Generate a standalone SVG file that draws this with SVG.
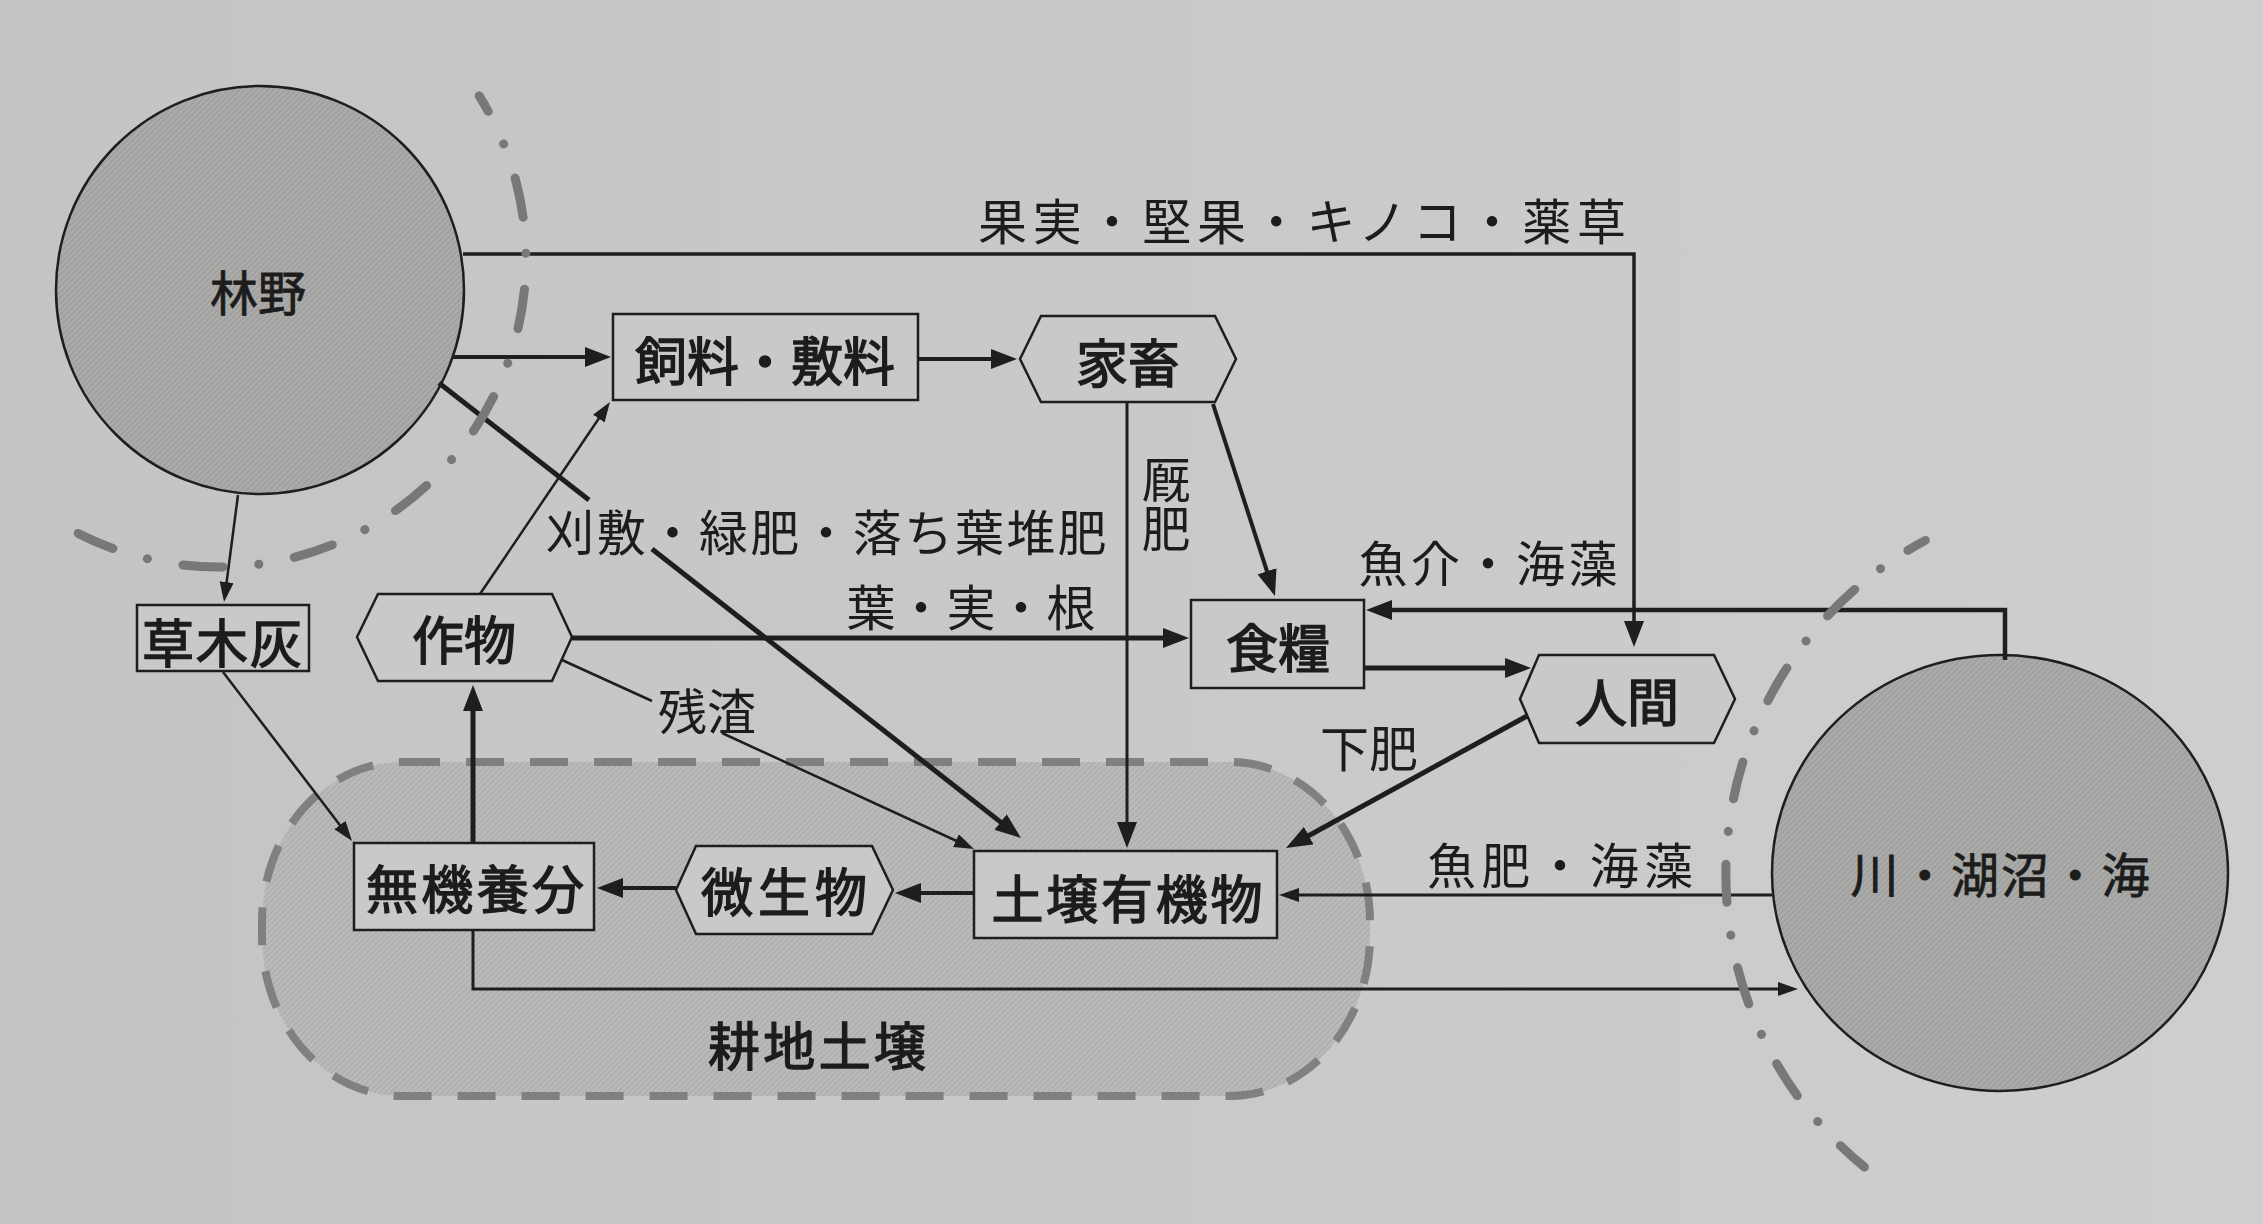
<svg xmlns="http://www.w3.org/2000/svg" width="2263" height="1224" viewBox="0 0 2263 1224">
<defs>
<linearGradient id="bg" x1="0" y1="0" x2="1" y2="0">
<stop offset="0" stop-color="#c4c4c2"/>
<stop offset="1" stop-color="#cecfcd"/>
</linearGradient>
<pattern id="hatchDark" width="4" height="4" patternUnits="userSpaceOnUse" patternTransform="rotate(45)">
<rect width="4" height="4" fill="#acacaa"/>
<line x1="1" y1="0" x2="1" y2="4" stroke="#999997" stroke-width="1.3"/>
</pattern>
<pattern id="hatchLight" width="4" height="4" patternUnits="userSpaceOnUse" patternTransform="rotate(45)">
<rect width="4" height="4" fill="#bbbbb9"/>
<line x1="1" y1="0" x2="1" y2="4" stroke="#aaaaa8" stroke-width="1.3"/>
</pattern>
<marker id="a" markerWidth="26" markerHeight="20" refX="18" refY="10" orient="auto" markerUnits="userSpaceOnUse">
<path d="M0,0 L26,10 L0,20 z" fill="#1e1e1e"/>
</marker>
<marker id="s" markerWidth="20" markerHeight="14" refX="14" refY="7" orient="auto" markerUnits="userSpaceOnUse">
<path d="M0,0 L20,7 L0,14 z" fill="#1e1e1e"/>
</marker>
<style>
text{font-family:"Noto Sans CJK JP","Noto Sans CJK SC",sans-serif;fill:#1c1c1c;text-anchor:middle;dominant-baseline:central}
.node{font-size:52px;stroke:#1c1c1c;stroke-width:1.4px}
.lbl{font-size:49px}
.circ{font-size:48px;stroke:#1c1c1c;stroke-width:0.8px}
.box{fill:#c9c9c7;stroke:#1e1e1e;stroke-width:2.5}
.ball{fill:url(#hatchDark);stroke:#1e1e1e;stroke-width:2.5}
.c{fill:none;stroke:#1e1e1e}
.dd{fill:none;stroke:#787876;stroke-width:9;stroke-linecap:round}
</style>
</defs>
<rect width="2263" height="1224" fill="url(#bg)"/>

<g id="farmland">
<rect x="262" y="762" width="1108" height="334" rx="140" ry="160" fill="url(#hatchLight)" stroke="#80807e" stroke-width="8" stroke-dasharray="38 26"/>
<text class="node" x="817" y="1043" textLength="218">耕地土壌</text>
</g>

<g id="forest">
<circle class="ball" cx="260" cy="290" r="204"/>
<text class="circ" x="258" y="290">林野</text>
</g>

<g id="water">
<ellipse class="ball" cx="2000" cy="873" rx="228" ry="218"/>
<text class="circ" x="2000" y="872" textLength="299">川・湖沼・海</text>
</g>

<g id="connectors">
<path class="c" stroke-width="3.5" d="M463,254 H1634 V639" marker-end="url(#a)"/>
<path class="c" stroke-width="4" d="M453,357 H603" marker-end="url(#a)"/>
<path class="c" stroke-width="4" d="M918,359 H1009" marker-end="url(#a)"/>
<path class="c" stroke-width="4" d="M1213,404 L1272.5,588.4" marker-end="url(#a)"/>
<path class="c" stroke-width="3" d="M1127,402 V840" marker-end="url(#a)"/>
<path class="c" stroke-width="5" d="M572,638 H1181" marker-end="url(#a)"/>
<path class="c" stroke-width="5" d="M1364,668 H1523" marker-end="url(#a)"/>
<path class="c" stroke-width="4.5" d="M2005,660 V610 H1374" marker-end="url(#a)"/>
<path class="c" stroke-width="5" d="M1527,716 L1293,844.2" marker-end="url(#a)"/>
<path class="c" stroke-width="3" d="M1772,895 H1285" marker-end="url(#s)"/>
<path class="c" stroke-width="3" d="M473,930 V989 H1792" marker-end="url(#s)"/>
<path class="c" stroke-width="4" d="M974,893 H903" marker-end="url(#a)"/>
<path class="c" stroke-width="4" d="M676,888 H605" marker-end="url(#a)"/>
<path class="c" stroke-width="5" d="M473,843 V693" marker-end="url(#a)"/>
<path class="c" stroke-width="2.5" d="M223,672 L348.4,836.2" marker-end="url(#s)"/>
<path class="c" stroke-width="2.5" d="M238,495 L224.8,596" marker-end="url(#s)"/>
<path class="c" stroke-width="2.5" d="M480,594 L606.6,407" marker-end="url(#s)"/>
<path class="c" stroke-width="2.5" d="M562,660 L652,701"/>
<path class="c" stroke-width="2.5" d="M722,733 L968.6,846.5" marker-end="url(#s)"/>
<path class="c" stroke-width="5" d="M439,383 L589,500"/>
<path class="c" stroke-width="5" d="M652,549 L1014.7,833.1" marker-end="url(#a)"/>
</g>

<g id="boundaries">
<path class="dd" stroke-dasharray="40 36 0.1 36" stroke-dashoffset="22" d="M479.2,95.8 A308,308 0 0 1 78.2,533.4"/>
<path class="dd" stroke-dasharray="38 33 0.1 33" stroke-dashoffset="18" d="M1925.3,540.4 A379,379 0 0 0 1864.4,1167.1"/>
</g>

<g id="feed">
<rect class="box" x="613" y="314" width="305" height="86"/>
<text class="node" x="765" y="358" textLength="260">飼料・敷料</text>
</g>
<g id="livestock">
<polygon class="box" points="1020,359 1041,316 1215,316 1236,359 1215,402 1041,402"/>
<text class="node" x="1128" y="360">家畜</text>
</g>
<g id="food">
<rect class="box" x="1191" y="600" width="173" height="88"/>
<text class="node" x="1278" y="645">食糧</text>
</g>
<g id="human">
<polygon class="box" points="1520,699 1539,655 1714,655 1735,699 1714,743 1539,743"/>
<text class="node" x="1627" y="699">人間</text>
</g>
<g id="crop">
<polygon class="box" points="357,637 378,594 552,594 572,637 552,681 378,681"/>
<text class="node" x="464" y="637">作物</text>
</g>
<g id="ash">
<rect class="box" x="137" y="605" width="172" height="66"/>
<text class="node" x="222" y="640" textLength="160">草木灰</text>
</g>
<g id="inorganic">
<rect class="box" x="354" y="843" width="240" height="87"/>
<text class="node" x="475" y="886" textLength="218">無機養分</text>
</g>
<g id="microbe">
<polygon class="box" points="676,890 696,846 872,846 893,890 872,934 696,934"/>
<text class="node" x="784" y="889" textLength="166">微生物</text>
</g>
<g id="soilorganic">
<rect class="box" x="974" y="851" width="303" height="87"/>
<text class="node" x="1127" y="896" textLength="271">土壌有機物</text>
</g>

<g id="labels">
<text class="lbl" x="1302" y="218" textLength="648">果実・堅果・キノコ・薬草</text>
<text class="lbl" x="826" y="529" textLength="561">刈敷・緑肥・落ち葉堆肥</text>
<text class="lbl" x="971" y="604" textLength="249">葉・実・根</text>
<text class="lbl" x="1166" y="504" writing-mode="vertical-rl">厩肥</text>
<text class="lbl" x="1488" y="560" textLength="259">魚介・海藻</text>
<text class="lbl" x="1369" y="745">下肥</text>
<text class="lbl" x="1560" y="862" textLength="266">魚肥・海藻</text>
<text class="lbl" x="707" y="708">残渣</text>
</g>
</svg>
